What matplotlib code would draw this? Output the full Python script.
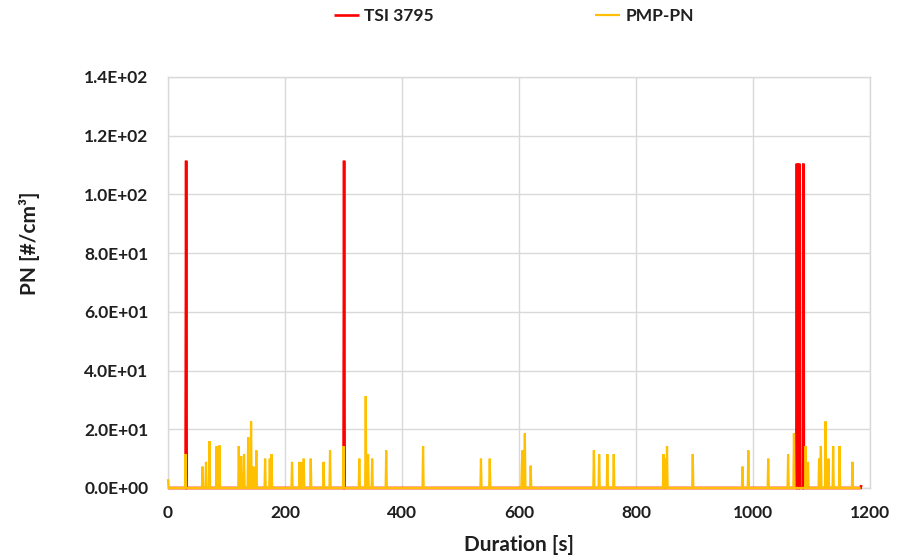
import numpy as np
import matplotlib.pyplot as plt
from matplotlib.ticker import FuncFormatter

# 1 Hz record, 0 .. 1185 s; both series sit at zero except for these spikes
duration_end = 1185

tsi_times = [31, 301, 1075, 1079, 1086, 1185]
tsi_values = [111.5, 111.5, 110.5, 110.5, 110.5, 1.0]

pmp_times = [0, 30, 59, 65, 71, 83, 88, 121, 125, 130, 137, 142, 146, 151,
             166, 174, 177, 212, 225, 228, 232, 244, 266, 277, 300, 327,
             338, 342, 349, 373, 436, 535, 550, 605, 606, 610, 620, 728,
             737, 751, 762, 847, 849, 853, 897, 982, 992, 1026, 1060, 1070,
             1090, 1094, 1113, 1116, 1124, 1129, 1137, 1148, 1170]
pmp_values = [3.0, 11.6, 7.3, 8.9, 16.0, 14.2, 14.5, 14.3, 10.9, 11.6, 17.3,
              22.7, 7.3, 12.8, 10.0, 10.0, 11.5, 8.9, 8.9, 8.7, 10.0, 10.0,
              8.9, 12.8, 14.3, 10.0, 31.3, 11.5, 10.0, 12.8, 14.3, 10.0, 10.0,
              8.5, 12.8, 18.6, 7.6, 12.8, 11.5, 11.5, 11.5, 11.5, 10.0, 14.3,
              11.5, 7.3, 12.8, 10.0, 11.5, 18.6, 14.3, 8.9, 10.0, 14.3, 22.7,
              10.0, 14.3, 14.3, 8.9]

t = np.arange(duration_end + 1)
tsi = np.zeros(len(t))
tsi[tsi_times] = tsi_values
pmp = np.zeros(len(t) - 1)
pmp[pmp_times] = pmp_values

plt.rcParams['font.family'] = ['Lato', 'DejaVu Sans']
plt.rcParams['font.weight'] = 'bold'
txt = '#1f1f1f'
grid_c = '#d9d9d9'

fig = plt.figure(figsize=(9.01, 5.57), dpi=100)
ax = fig.add_axes([168 / 901, 1 - 488 / 557, 702 / 901, 411 / 557])

ax.plot(t, tsi, color='#ff0000', lw=1.9, label='TSI 3795', clip_on=False,
        zorder=3, solid_joinstyle='miter', solid_capstyle='butt')
ax.plot(t[:-1], pmp, color='#ffc000', lw=1.6, label='PMP-PN', clip_on=False,
        zorder=4, solid_joinstyle='miter', solid_capstyle='butt')

ax.set_xlim(0, 1200)
ax.set_ylim(0, 140)
ax.set_xticks(np.arange(0, 1201, 200))
ax.set_yticks(np.arange(0, 141, 20))
ax.yaxis.set_major_formatter(FuncFormatter(lambda v, p: f'{v:.1E}'))
ax.grid(True, color=grid_c, lw=1.0)
ax.set_axisbelow(True)
for s in ax.spines.values():
    s.set_color(grid_c)
    s.set_linewidth(1.0)
ax.tick_params(length=0, labelsize=12.5, colors=txt)
ax.tick_params(axis='y', pad=14)
ax.tick_params(axis='x', pad=12)
for lab in ax.get_xticklabels() + ax.get_yticklabels():
    lab.set_fontweight('bold')

fig.text(30 / 901, 1 - 243 / 557, 'PN [#/cm³]', rotation=90, ha='center',
         va='center', fontsize=15, fontweight='bold', color=txt)
fig.text(519 / 901, 1 - 545 / 557, 'Duration [s]', ha='center', va='center',
         fontsize=15, fontweight='bold', color=txt)

fig.legend(loc='center', bbox_to_anchor=(514 / 901, 1 - 16 / 557), ncol=2,
           frameon=False, fontsize=12.5, handlelength=1.45, handletextpad=0.3,
           columnspacing=9.3, labelcolor=txt)

fig.savefig('out.png', dpi=100)
